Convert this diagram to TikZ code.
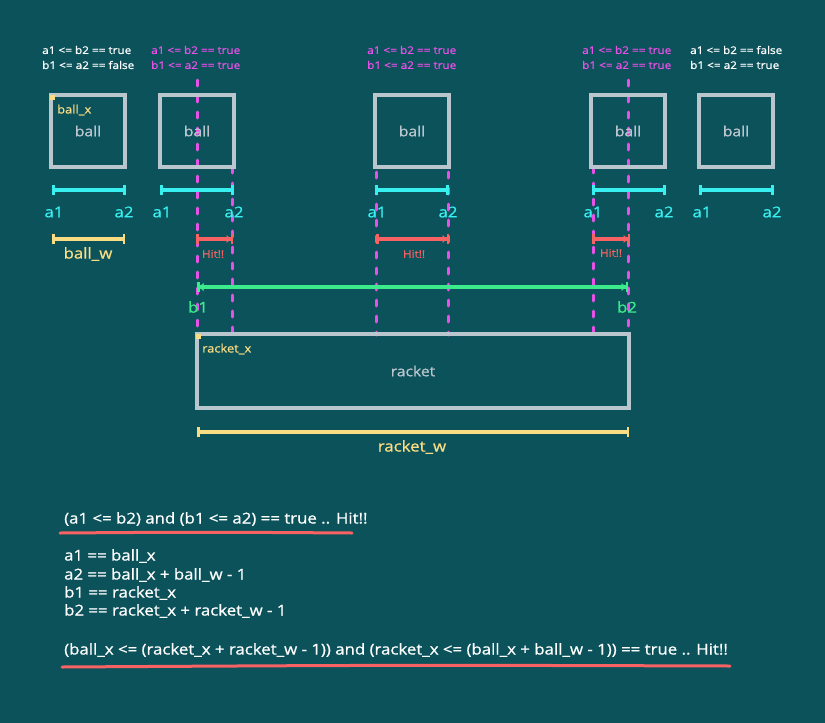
\documentclass[tikz,border=0pt]{standalone}
\usepackage{fontspec}
\setmainfont{Open Sans}[FakeStretch=1.12,FakeBold=0.8]
\usetikzlibrary{arrows.meta}
\definecolor{bg}{RGB}{11,82,91}
\definecolor{boxgray}{RGB}{186,198,206}
\definecolor{mag}{RGB}{232,80,232}
\definecolor{cy}{RGB}{56,240,240}
\definecolor{gr}{RGB}{60,236,140}
\definecolor{ye}{RGB}{250,220,130}
\definecolor{rd}{RGB}{248,98,98}
\tikzset{
  ballbox/.style={draw=boxgray, line width=3.5pt, minimum width=74pt, minimum height=72pt, inner sep=0pt, text=boxgray, font=\fontsize{14}{16}\selectfont},
  racketbox/.style={draw=boxgray, line width=3.5pt, minimum width=432pt, minimum height=74pt, inner sep=0pt, text=boxgray, font=\fontsize{14}{16}\selectfont},
  toptxt/.style={anchor=west, inner sep=0pt, font=\fontsize{10.5}{12}\selectfont},
  cond/.style={toptxt, text=white},
  condm/.style={toptxt, text=mag},
  cybar/.style={draw=cy, line width=3.2pt, {Bar[width=10pt,line width=3pt]}-{Bar[width=10pt,line width=3pt]}},
  yebar/.style={draw=ye, line width=3.2pt, {Bar[width=10pt,line width=2.5pt]}-{Bar[width=10pt,line width=2.5pt]}},
  rdbar/.style={draw=rd, line width=3.2pt, {Bar[width=10pt,line width=2.5pt]}-{Triangle[length=4pt,width=8pt]Bar[width=10pt,line width=2.5pt]}},
  grbar/.style={draw=gr, line width=3.2pt, {Bar[width=10pt,line width=2.5pt]Triangle[length=4pt,width=8pt]}-{Triangle[length=4pt,width=8pt]Bar[width=10pt,line width=2.5pt]}},
  cylab/.style={inner sep=0pt, text=cy, font=\fontsize{15}{17}\selectfont},
  grlab/.style={inner sep=0pt, text=gr, font=\fontsize{15}{17}\selectfont},
  yelab/.style={inner sep=0pt, text=ye, font=\fontsize{15}{17}\selectfont},
  yesmall/.style={anchor=west, inner sep=0pt, text=ye, font=\fontsize{11.5}{13}\selectfont},
  hitlab/.style={inner sep=0pt, text=rd, font=\fontsize{10.5}{12}\selectfont},
  magline/.style={draw=mag, line width=3pt, line cap=round, dash pattern=on 6pt off 10pt},
  eqtxt/.style={anchor=west, inner sep=0pt, text=white, font=\fontsize{15}{17}\selectfont},
  underl/.style={draw=rd, line width=3pt, line cap=round},
}
\begin{document}
\begin{tikzpicture}[x=1pt,y=-1pt]
\fill[bg] (0,0) rectangle (825,723);
\useasboundingbox (0,0) rectangle (825,723);

% condition texts
\node[cond] (c1a) at (42,50) {a1 <= b2 == true};
\node[cond] (c1b) at (42,65) {b1 <= a2 == false};
\node[condm] (c2a) at (151,50) {a1 <= b2 == true};
\node[condm] (c2b) at (151,65) {b1 <= a2 == true};
\node[condm] (c3a) at (367,50) {a1 <= b2 == true};
\node[condm] (c3b) at (367,65) {b1 <= a2 == true};
\node[condm] (c4a) at (582,50) {a1 <= b2 == true};
\node[condm] (c4b) at (582,65) {b1 <= a2 == true};
\node[cond] (c5a) at (690,50) {a1 <= b2 == false};
\node[cond] (c5b) at (690,65) {b1 <= a2 == true};

% magenta dashed guide lines
\coordinate (m1t) at (197,80);  \coordinate (m1b) at (197,335);
\coordinate (m2t) at (232,167); \coordinate (m2b) at (232,335);
\coordinate (m3t) at (376,172); \coordinate (m3b) at (376,335);
\coordinate (m4t) at (448,172); \coordinate (m4b) at (448,335);
\coordinate (m5t) at (593,167); \coordinate (m5b) at (593,335);
\coordinate (m6t) at (628,80);  \coordinate (m6b) at (628,335);
\foreach \i in {1,...,6} { \draw[magline] (m\i t) -- (m\i b); }

% balls
\node[ballbox] (ball1) at (88,131) {ball};
\node[ballbox] (ball2) at (197,131) {ball};
\node[ballbox] (ball3) at (412,131) {ball};
\node[ballbox] (ball4) at (628,131) {ball};
\node[ballbox] (ball5) at (736,131) {ball};

\fill[ye] (50,95) rectangle (55,100);
\node[yesmall] (ballx) at (57,110) {ball\_x};

% cyan a1-a2 bars
\foreach \n/\l/\r in {1/52/126, 2/160/234, 3/375/449, 4/592/666, 5/699/774} {
  \coordinate (p\n l) at (\l,190);
  \coordinate (p\n r) at (\r,190);
  \draw[cybar] (p\n l) -- (p\n r);
}
\foreach \n/\l/\r in {1/54/124, 2/162/234, 3/377/448, 4/593/664, 5/702/772} {
  \node[cylab] (a1\n) at (\l,212) {a1};
  \node[cylab] (a2\n) at (\r,212) {a2};
}

% ball_w
\coordinate (bwl) at (52,239); \coordinate (bwr) at (125,239);
\draw[yebar] (bwl) -- (bwr);
\node[yelab] (ballw) at (88,254) {ball\_w};

% Hit bars
\coordinate (h1l) at (196,239); \coordinate (h1r) at (233,239);
\coordinate (h2l) at (376,239); \coordinate (h2r) at (449,239);
\coordinate (h3l) at (592,239); \coordinate (h3r) at (630,239);
\draw[rdbar] (h1l) -- (h1r);
\draw[rdbar] (h2l) -- (h2r);
\draw[rdbar] (h3l) -- (h3r);
\node[hitlab] (hit1) at (213,254) {Hit!!};
\node[hitlab] (hit2) at (414,254) {Hit!!};
\node[hitlab] (hit3) at (611,253) {Hit!!};

% b1-b2 bar
\coordinate (gl) at (197,287); \coordinate (gr) at (628,287);
\draw[grbar] (gl) -- (gr);
\node[grlab] (b1) at (198,307) {b1};
\node[grlab] (b2) at (627,307) {b2};

% racket
\node[racketbox] (racket) at (413,371) {racket};
\fill[ye] (196,334) rectangle (201,339);
\node[yesmall] (racketx) at (202,349) {racket\_x};

% racket_w
\coordinate (rwl) at (197,432); \coordinate (rwr) at (629,432);
\draw[yebar] (rwl) -- (rwr);
\node[yelab] (racketw) at (412,447) {racket\_w};

% equations
\node[eqtxt] (e0) at (64,519) {(a1 <= b2) and (b1 <= a2) == true .. Hit!!};
\coordinate (u0l) at (60,533); \coordinate (u0r) at (352,533);
\draw[underl] (u0l) .. controls (200,532) .. (u0r);
\node[eqtxt] (e1) at (64,556) {a1 == ball\_x};
\node[eqtxt] (e2) at (64,575) {a2 == ball\_x + ball\_w - 1};
\node[eqtxt] (e3) at (64,593) {b1 == racket\_x};
\node[eqtxt] (e4) at (64,611) {b2 == racket\_x + racket\_w - 1};
\node[eqtxt] (e5) at (64,650) {(ball\_x <= (racket\_x + racket\_w - 1)) and (racket\_x <= (ball\_x + ball\_w - 1)) == true .. Hit!!};
\coordinate (u1l) at (62,667); \coordinate (u1r) at (730,666);
\draw[underl] (u1l) .. controls (400,665) .. (u1r);
\end{tikzpicture}
\end{document}
